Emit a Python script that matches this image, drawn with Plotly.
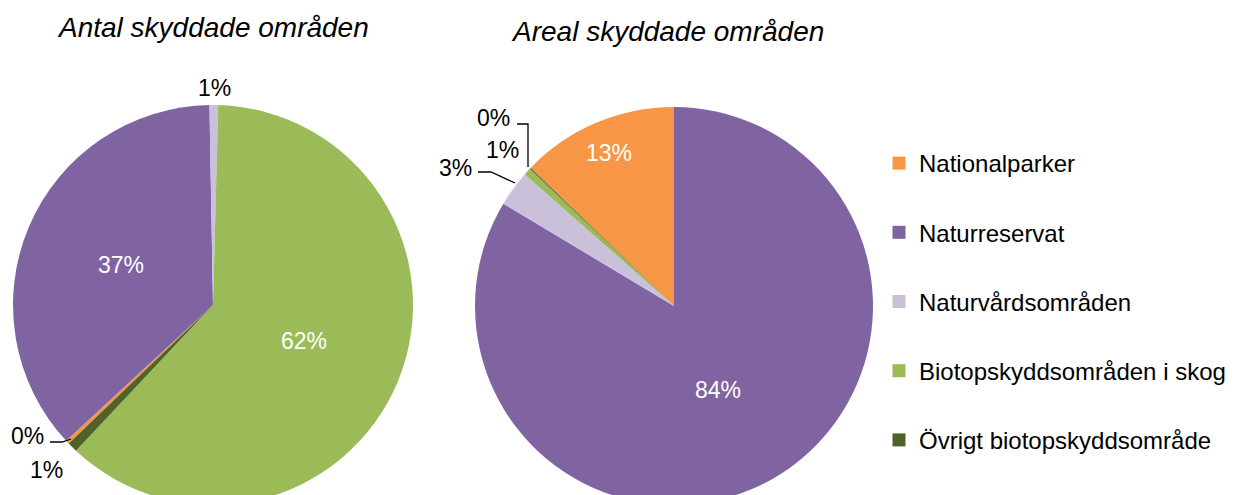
import plotly.graph_objects as go

W, H = 1241, 520          # figure size (page shows the top 495 px)
OFF = 8                   # page margin around the plot div

# ---------------- data ----------------
categories = ["Nationalparker", "Naturreservat", "Naturvårdsområden",
              "Biotopskyddsområden i skog", "Övrigt biotopskyddsområde"]
antal_pct = [0.3, 36.6, 0.7, 61.6, 0.8]      # Antal skyddade områden (%)
areal_pct = [12.8, 83.6, 2.9, 0.6, 0.1]      # Areal skyddade områden (%)
antal_text = ["0%", "37%", "1%", "62%", "1%"]
areal_text = ["13%", "84%", "3%", "1%", "0%"]
titles = ["Antal skyddade områden", "Areal skyddade områden"]

# ---------------- style ----------------
colors = ["#F79646", "#8064A2", "#CAC0DA", "#9BBB59", "#4F6228"]
FONT = "Arial, Liberation Sans, sans-serif"

# pie geometry in screen pixels (center x, center y, radius)
pies = [(213, 305, 200), (674, 306, 199)]

# label placement (screen pixels) and colour per slice, same order as categories
antal_lbl_pos = [(27, 436), (121, 265), (214, 88), (304, 341), (46, 470)]
antal_lbl_col = ["black", "white", "black", "white", "black"]
areal_lbl_pos = [(609, 153), (718, 390), (455, 168), (502, 150), (493, 118)]
areal_lbl_col = ["white", "white", "black", "black", "black"]

# leader lines (screen pixels)
leaders = [
    [(50, 442), (62, 442), (71, 439)],
    [(517, 124), (528, 124), (528, 167)],
    [(478, 172), (491, 172), (515, 183)],
]


def dom(cx, cy, r):
    return dict(x=[(cx - r - OFF) / W, (cx + r - OFF) / W],
                y=[1 - (cy + r - OFF) / H, 1 - (cy - r - OFF) / H])


fig = go.Figure()

rot_left = 1.5 + (antal_pct[3] + antal_pct[4]) / sum(antal_pct) * 360
rot_right = -areal_pct[0] / sum(areal_pct) * 360

for vals, (cx, cy, r), rot in [(antal_pct, pies[0], rot_left),
                               (areal_pct, pies[1], rot_right)]:
    fig.add_trace(go.Pie(
        labels=categories, values=vals, sort=False, direction="clockwise",
        rotation=rot, marker=dict(colors=colors, line=dict(width=0)),
        textinfo="none", hoverinfo="label+percent", showlegend=False,
        domain=dom(cx, cy, r),
    ))

# legend via marker-only traces (one group each so that gaps can be set)
for c, name in zip(colors, categories):
    fig.add_trace(go.Scatter(
        x=[None], y=[None], mode="markers", name=name, legendgroup=name,
        marker=dict(symbol="square", size=13, color=c),
    ))

annotations = []
for texts, poss, cols in [(antal_text, antal_lbl_pos, antal_lbl_col),
                          (areal_text, areal_lbl_pos, areal_lbl_col)]:
    for t, (x, y), c in zip(texts, poss, cols):
        annotations.append(dict(x=x, y=y, xref="x", yref="y", text=t,
                                showarrow=False,
                                font=dict(size=23, color=c, family=FONT)))

for t, x, y in [(titles[0], 213, 27), (titles[1], 667, 31)]:
    annotations.append(dict(x=x, y=y, xref="x", yref="y",
                            text=f"<i>{t}</i>", showarrow=False,
                            font=dict(size=28, color="black", family=FONT)))

shapes = []
for pts in leaders:
    path = "M " + " L ".join(f"{x},{y}" for x, y in pts)
    shapes.append(dict(type="path", path=path, xref="x", yref="y",
                       line=dict(color="black", width=1.3)))

fig.update_layout(
    width=W, height=H,
    margin=dict(l=0, r=0, t=0, b=0),
    paper_bgcolor="white", plot_bgcolor="rgba(0,0,0,0)",
    font=dict(family=FONT, color="black"),
    # hidden axes whose units equal screen pixels
    xaxis=dict(range=[OFF, W + OFF], visible=False, fixedrange=True),
    yaxis=dict(range=[H + OFF, OFF], visible=False, fixedrange=True),
    showlegend=True,
    legend=dict(x=(879 - OFF) / W, y=1 - (141 - OFF) / H,
                xanchor="left", yanchor="top",
                font=dict(size=24, family=FONT, color="black"),
                tracegroupgap=35, itemsizing="trace",
                bgcolor="rgba(0,0,0,0)"),
    annotations=annotations,
    shapes=shapes,
)

fig.write_html("out.html")
